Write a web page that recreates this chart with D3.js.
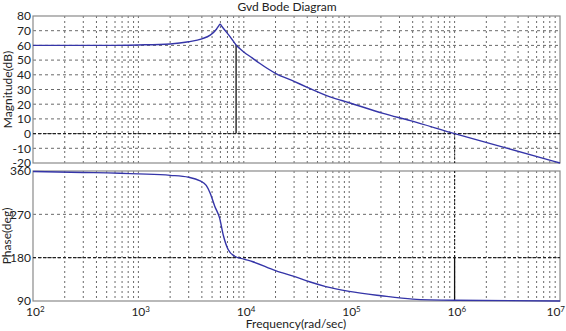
<!DOCTYPE html>
<html>
<head>
<meta charset="utf-8">
<script src="https://cdn.jsdelivr.net/npm/d3@7"></script>
<style>
  body { margin: 0; background: #fff; }
  svg { display: block; font-family: Lato, "Open Sans", sans-serif; }
</style>
</head>
<body>
<div id="chart"></div>
<script>
// values
const freq     = [100, 500, 1000, 2000, 3000, 4000, 4800, 5500, 5800, 5950, 6150, 6500, 7400, 8450, 10000, 12000, 14000, 20000, 30000, 40000, 65800, 100000, 210000, 380000, 1000000, 3000000, 10000000];
const magDb    = [60, 60, 60.3, 61, 62.5, 64.5, 67, 71, 73.5, 74.5, 73.2, 71, 66, 60.3, 55.5, 51.5, 48, 41, 35.5, 31.5, 25, 21, 13.8, 8.8, 0, -9.5, -20];

const phFreq   = [100, 300, 1000, 2000, 3000, 3800, 4400, 4800, 5300, 5900, 6400, 7100, 8200, 10000, 12000, 20000, 30000, 42000, 60000, 100000, 200000, 400000, 1000000, 10000000];
const phaseDeg = [359, 357, 354, 351, 347, 340, 330, 314, 287, 262, 226, 197, 183, 177, 172, 153, 141, 130, 120, 110, 101, 94, 91.5, 90];

const magTicks   = [-20, -10, 0, 10, 20, 30, 40, 50, 60, 70, 80];
const phaseTicks = [90, 180, 270, 360];
const decades    = [2, 3, 4, 5, 6, 7];

// crossover markers (gain margin at phase crossover, phase margin at gain crossover)
const gmFreq = 8450, gmMag = 60.3;
const pmFreq = 1000000, pmPhase = 91.5;

const W = 566, H = 331;
const left = 33, right = 560;
const top1 = 16, bot1 = 163;
const top2 = 171, bot2 = 301;

const svg = d3.select("#chart").append("svg")
    .attr("width", W).attr("height", H);

const x = d3.scaleLog().domain([1e2, 1e7]).range([left, right]);
const yMag = d3.scaleLinear().domain([-20, 80]).range([bot1, top1]);
const yPh = d3.scaleLinear().domain([90, 360]).range([bot2, top2]);

// minor + major frequency grid values
const gridFreqs = [];
for (let e = 2; e < 7; e++) {
    for (let m = 1; m < 10; m++) gridFreqs.push(m * Math.pow(10, e));
}

function panel(yScale, ticks, y0, y1) {
    const g = svg.append("g");
    g.selectAll(".vg").data(gridFreqs.filter(f => f > 100)).enter()
        .append("line")
        .attr("x1", d => x(d)).attr("x2", d => x(d))
        .attr("y1", y0).attr("y2", y1)
        .attr("stroke", "#444").attr("stroke-width", 0.8)
        .attr("stroke-dasharray", "2,3");
    g.selectAll(".hg").data(ticks.filter(t => yScale(t) > y0 + 1 && yScale(t) < y1 - 1)).enter()
        .append("line")
        .attr("x1", left).attr("x2", right)
        .attr("y1", d => yScale(d)).attr("y2", d => yScale(d))
        .attr("stroke", "#444").attr("stroke-width", 0.8)
        .attr("stroke-dasharray", "3,3");
    // box
    g.append("rect")
        .attr("x", left).attr("y", y0)
        .attr("width", right - left).attr("height", y1 - y0)
        .attr("fill", "none").attr("stroke", "#8a8a8a").attr("stroke-width", 1.2);
    // y tick labels
    g.selectAll(".yl").data(ticks).enter()
        .append("text")
        .attr("x", left - 2).attr("y", d => yScale(d))
        .attr("dy", "0.36em")
        .attr("text-anchor", "end")
        .attr("font-size", "12px")
        .attr("fill", "#222")
        .text(d => d);
    return g;
}

panel(yMag, magTicks, top1, bot1);
panel(yPh, phaseTicks, top2, bot2);

// emphasised 0 dB and 180 deg lines
svg.append("line")
    .attr("x1", left).attr("x2", right)
    .attr("y1", yMag(0)).attr("y2", yMag(0))
    .attr("stroke", "#222").attr("stroke-width", 1.2).attr("stroke-dasharray", "3,2");
svg.append("line")
    .attr("x1", left).attr("x2", right)
    .attr("y1", yPh(180)).attr("y2", yPh(180))
    .attr("stroke", "#222").attr("stroke-width", 1.2).attr("stroke-dasharray", "3,2");

// crossover dotted verticals
svg.append("line")
    .attr("x1", x(pmFreq)).attr("x2", x(pmFreq))
    .attr("y1", yMag(0)).attr("y2", bot1)
    .attr("stroke", "#222").attr("stroke-width", 1.2).attr("stroke-dasharray", "2,2");
svg.append("line")
    .attr("x1", x(pmFreq)).attr("x2", x(pmFreq))
    .attr("y1", top2).attr("y2", yPh(180))
    .attr("stroke", "#222").attr("stroke-width", 1.2).attr("stroke-dasharray", "2,2");

// margin lines
svg.append("line")
    .attr("x1", x(gmFreq)).attr("x2", x(gmFreq))
    .attr("y1", yMag(gmMag)).attr("y2", yMag(0))
    .attr("stroke", "#111").attr("stroke-width", 1.3);
svg.append("line")
    .attr("x1", x(pmFreq)).attr("x2", x(pmFreq))
    .attr("y1", yPh(180)).attr("y2", yPh(pmPhase))
    .attr("stroke", "#111").attr("stroke-width", 1.3);

// curves
const magLine = d3.line()
    .x((d, i) => x(freq[i]))
    .y(d => yMag(d))
    .curve(d3.curveMonotoneX);
svg.append("path")
    .datum(magDb)
    .attr("fill", "none")
    .attr("stroke", "#3535a8")
    .attr("stroke-width", 1.4)
    .attr("d", magLine);

const phLine = d3.line()
    .x((d, i) => x(phFreq[i]))
    .y(d => yPh(d))
    .curve(d3.curveMonotoneX);
svg.append("path")
    .datum(phaseDeg)
    .attr("fill", "none")
    .attr("stroke", "#3535a8")
    .attr("stroke-width", 1.4)
    .attr("d", phLine);

// x tick labels 10^n
const xl = svg.selectAll(".xl").data(decades).enter()
    .append("text")
    .attr("x", d => d === 7 ? W - 1 : x(Math.pow(10, d)) - 7)
    .attr("y", 316)
    .attr("text-anchor", d => d === 7 ? "end" : "start")
    .attr("font-size", "12px")
    .attr("fill", "#222");
xl.append("tspan").text("10");
xl.append("tspan")
    .attr("dy", "-0.45em")
    .attr("font-size", "8px")
    .text(d => d);

// titles and labels
svg.append("text")
    .attr("x", 287).attr("y", 11)
    .attr("text-anchor", "middle")
    .attr("font-size", "12px")
    .attr("fill", "#222")
    .text("Gvd Bode Diagram");

svg.append("text")
    .attr("x", 296).attr("y", 328)
    .attr("text-anchor", "middle")
    .attr("font-size", "12px")
    .attr("fill", "#222")
    .text("Frequency(rad/sec)");

svg.append("text")
    .attr("transform", `translate(12,${(top1 + bot1) / 2}) rotate(-90)`)
    .attr("text-anchor", "middle")
    .attr("font-size", "12px")
    .attr("fill", "#222")
    .text("Magnitude(dB)");

svg.append("text")
    .attr("transform", `translate(11,${(top2 + bot2) / 2}) rotate(-90)`)
    .attr("text-anchor", "middle")
    .attr("font-size", "12px")
    .attr("fill", "#222")
    .text("Phase(deg)");
</script>
</body>
</html>
